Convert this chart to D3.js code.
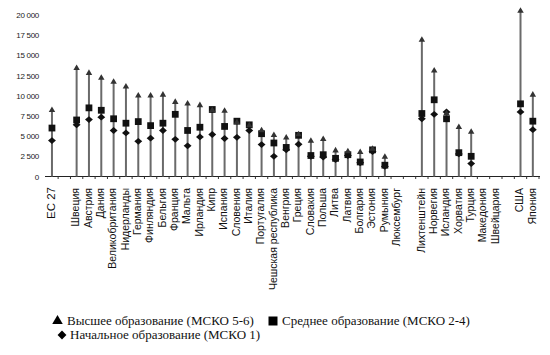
<!DOCTYPE html>
<html>
<head>
<meta charset="utf-8">
<script src="https://cdn.jsdelivr.net/npm/d3@7"></script>
<style>
  html, body { margin: 0; padding: 0; background: #fff; }
  svg { display: block; }
</style>
</head>
<body>
<svg id="chart" width="550" height="355"></svg>
<script>
// ---- data ----
const categories = ["ЕС 27", "", "Швеция", "Австрия", "Дания", "Великобритания", "Нидерланды", "Германия",
  "Финляндия", "Бельгия", "Франция", "Мальта", "Ирландия", "Кипр", "Испания", "Словения", "Италия",
  "Португалия", "Чешская республика", "Венгрия", "Греция", "Словакия", "Польша", "Литва", "Латвия",
  "Болгария", "Эстония", "Румыния", "Люксембург", "", "Лихтенштейн", "Норвегия", "Исландия", "Хорватия",
  "Турция", "Македония", "Швейцария", "", "США", "Япония"];

const higher = [8400, null, 13600, 13000, 12400, 11900, 11300, 10200,
  10200, 10300, 9400, 9200, 9000, 8400, 8300, 6900, 6500,
  5900, 5300, 5000, 5400, 4600, 4800, 3400, 3300,
  3200, 3600, 2600, null, null, 17100, 13300, 8000, 6300,
  5700, null, null, null, 20700, 10300];

const secondary = [6000, null, 7000, 8500, 8200, 7150, 6600, 6800,
  6300, 6600, 7700, 5700, 6100, 8300, 6200, 6850, 6400,
  5300, 4150, 3600, 5100, 2600, 2700, 2250, 2700,
  1800, 3300, 1400, null, null, 7800, 9500, 7150, 2950,
  2500, null, null, null, 9000, 6850];

const primary = [4450, null, 6400, 7050, 7350, 5700, 5400, 4350,
  4750, 5700, 4600, 3800, 4900, 5200, 4700, 4850, 5700,
  3950, 2500, 3300, 4000, 2500, 2400, 2100, 2600,
  1700, 3100, 1250, null, null, 7150, 7700, 8000, 2800,
  1600, null, null, null, 8000, 5800];

const yTicks = [0, 2500, 5000, 7500, 10000, 12500, 15000, 17500, 20000];

const legendItems = [
  { label: "Высшее образование (МСКО 5-6)", sym: "triangle" },
  { label: "Среднее образование (МСКО 2-4)", sym: "square" },
  { label: "Начальное образование (МСКО 1)", sym: "diamond" }
];

// ---- chart ----
const svg = d3.select("#chart");
const idx = d3.range(categories.length);

const x = d3.scaleBand().domain(idx).range([45.8, 539]).padding(0);
const y = d3.scaleLinear().domain([0, 20000]).range([176.5, 15]);

const loc = d3.formatLocale({ decimal: ",", thousands: " ", grouping: [3], currency: ["", ""] });
const fmt = loc.format(",d");

// y axis (labels only)
const yAxis = svg.append("g")
  .attr("transform", "translate(39,0)")
  .call(d3.axisLeft(y).tickValues(yTicks).tickSize(0).tickPadding(0).tickFormat(fmt));
yAxis.select(".domain").remove();
yAxis.selectAll("text")
  .attr("font-family", "Liberation Sans, Arial, sans-serif")
  .attr("font-size", 8)
  .attr("fill", "#1a1a1a")
  .attr("letter-spacing", "-0.3");

// x axis baseline + ticks
const xAxis = svg.append("g").attr("transform", `translate(0,${y(0)})`)
  .call(d3.axisBottom(x).tickSize(0).tickFormat(""));
xAxis.select(".domain").attr("d", `M45,0H540`).attr("stroke", "#222").attr("stroke-width", 1);
xAxis.selectAll(".tick").remove();
xAxis.selectAll("line.b").data(idx).enter().append("line")
  .attr("class", "b")
  .attr("x1", d => x(d) + x.bandwidth()).attr("x2", d => x(d) + x.bandwidth())
  .attr("y1", 0).attr("y2", 2.5)
  .attr("stroke", "#333").attr("stroke-width", 1);

// category labels
svg.append("g").selectAll("text").data(idx).enter().append("text")
  .attr("transform", d => `translate(${x(d) + x.bandwidth() / 2 - 1},${d === 0 ? 187 : 188}) rotate(-90)`)
  .attr("text-anchor", "end")
  .attr("dy", "0.35em")
  .attr("font-family", "Liberation Sans, Arial, sans-serif")
  .attr("font-size", d => d === 0 ? 11.5 : 10.5)
  .attr("fill", "#111")
  .text(d => categories[d]);

// range lines
const cx = d => x(d) + x.bandwidth() / 2;
const hasData = idx.filter(i => higher[i] != null);
svg.append("g").selectAll("line").data(hasData).enter().append("line")
  .attr("x1", cx).attr("x2", cx)
  .attr("y1", y(0))
  .attr("y2", i => y(Math.max(higher[i], secondary[i], primary[i])))
  .attr("stroke", "#6a6a6a").attr("stroke-width", 2);

const symTri = d3.symbol().type(d3.symbolTriangle).size(18);
const symSq = d3.symbol().type(d3.symbolSquare).size(46);
const symDia = d3.symbol().type(d3.symbolDiamond2).size(30);

svg.append("g").selectAll("path").data(hasData).enter().append("path")
  .attr("d", symDia)
  .attr("transform", i => `translate(${cx(i)},${y(primary[i])}) scale(1.15,1)`)
  .attr("fill", "#111");
svg.append("g").selectAll("path").data(hasData).enter().append("path")
  .attr("d", symSq)
  .attr("transform", i => `translate(${cx(i)},${y(secondary[i])})`)
  .attr("fill", "#111");
svg.append("g").selectAll("path").data(hasData).enter().append("path")
  .attr("d", symTri)
  .attr("transform", i => `translate(${cx(i)},${y(higher[i]) + 1.5})`)
  .attr("fill", "#333");

// legend
const lg = svg.append("g").attr("font-family", "Liberation Serif, Times New Roman, serif")
  .attr("font-size", 13).attr("fill", "#111");
const legPos = [
  { sx: 57.5, sy: 321, tx: 67, ty: 325 },
  { sx: 273, sy: 321, tx: 282, ty: 325 },
  { sx: 62, sy: 335, tx: 70, ty: 339 }
];
const symFor = { triangle: d3.symbol().type(d3.symbolTriangle).size(48),
  square: d3.symbol().type(d3.symbolSquare).size(81),
  diamond: d3.symbol().type(d3.symbolDiamond2).size(50) };
legendItems.forEach((it, k) => {
  const p = legPos[k];
  lg.append("path").attr("d", symFor[it.sym]).attr("transform", `translate(${p.sx},${p.sy})`).attr("fill", "#000");
  lg.append("text").attr("x", p.tx).attr("y", p.ty).text(it.label);
});
</script>
</body>
</html>
